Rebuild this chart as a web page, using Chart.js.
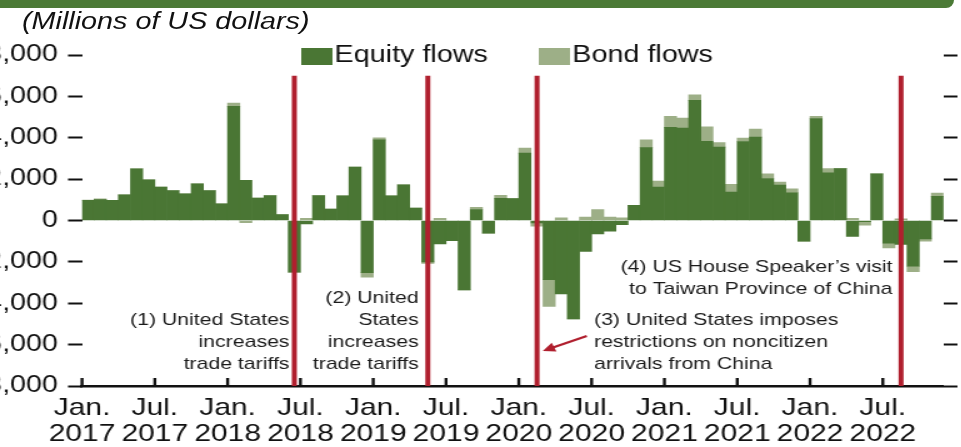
<!DOCTYPE html>
<html>
<head>
<meta charset="utf-8">
<script src="https://cdn.jsdelivr.net/npm/chart.js@4.4.1/dist/chart.umd.min.js"></script>
<style>
  html, body { margin: 0; padding: 0; background: #fff; overflow: hidden; }
  body { width: 961px; height: 447px; position: relative; }
  #banner { position: absolute; left: 0; top: 0; width: 954px; height: 8px; background: #4b7a36; border-bottom-right-radius: 10px; z-index: 2; }
  /* the original art uses a wide face, so the whole chart is stretched sideways */
  #wrap { position: absolute; left: -20px; top: 0; width: 785px; height: 447px; transform: scaleX(1.25); transform-origin: 0 0; }
  #unit { position: absolute; left: 33.6px; top: 9px; font: italic 23px "Liberation Sans", Arial, sans-serif; line-height: 24px; color: #111; white-space: nowrap; z-index: 1; }
  canvas { position: absolute; left: 0; top: 0; }
</style>
</head>
<body>
<div id="banner"></div>
<div id="wrap">
  <canvas id="flowsChart" width="785" height="447"></canvas>
  <div id="unit">(Millions of US dollars)</div>
</div>
<script>
// Monthly categories, Jan. 2017 - Nov. 2022
const months = [
  "Jan 2017", "Feb 2017", "Mar 2017", "Apr 2017", "May 2017", "Jun 2017", "Jul 2017", "Aug 2017", "Sep 2017", "Oct 2017", "Nov 2017", "Dec 2017",
  "Jan 2018", "Feb 2018", "Mar 2018", "Apr 2018", "May 2018", "Jun 2018", "Jul 2018", "Aug 2018", "Sep 2018", "Oct 2018", "Nov 2018", "Dec 2018",
  "Jan 2019", "Feb 2019", "Mar 2019", "Apr 2019", "May 2019", "Jun 2019", "Jul 2019", "Aug 2019", "Sep 2019", "Oct 2019", "Nov 2019", "Dec 2019",
  "Jan 2020", "Feb 2020", "Mar 2020", "Apr 2020", "May 2020", "Jun 2020", "Jul 2020", "Aug 2020", "Sep 2020", "Oct 2020", "Nov 2020", "Dec 2020",
  "Jan 2021", "Feb 2021", "Mar 2021", "Apr 2021", "May 2021", "Jun 2021", "Jul 2021", "Aug 2021", "Sep 2021", "Oct 2021", "Nov 2021", "Dec 2021",
  "Jan 2022", "Feb 2022", "Mar 2022", "Apr 2022", "May 2022", "Jun 2022", "Jul 2022", "Aug 2022", "Sep 2022", "Oct 2022", "Nov 2022"
];

// Equity flows (millions of US dollars)
const equity = [
  970, 1010, 970, 1240, 2500, 1970, 1610, 1450, 1290, 1770, 1450, 800,
  5520, 1940, 1080, 1210, 290, -2500, -160, 1210, 550, 1195, 2585, -2520,
  3900, 1195, 1730, 600, -2000, -1130, -970, -3350, 530, -610, 1070, 1060,
  3260, -120, -2860, -3550, -4760, -1490, -650, -520, -200, 730, 3520, 1610,
  4500, 4470, 5810, 3830, 3550, 1370, 3820, 4030, 2030, 1710, 1340, -1000,
  4930, 2300, 2510, -770, -60, 2250, -1100, -1160, -2210, -890, 1170
];

// Bond flows (millions of US dollars)
const bond = [
  20, 40, 0, 0, 0, 0, 0, 0, 0, 0, 0, 0,
  160, -100, 0, 0, 0, 0, 100, 0, 0, 0, 0, -220,
  100, 0, 0, 0, -80, 100, 0, 0, 110, 0, 150, 0,
  240, -150, -1290, 130, 0, 160, 530, 160, 130, 0, 380, 300,
  540, 480, 260, 700, 215, 380, 160, 390, 225, 150, 190, 0,
  110, 210, 0, 100, -170, 0, -220, 80, -260, -110, 150
];

// x-axis tick labels, every six months from Jan. 2017
const tickLabels = [
  ["Jan.", "2017"], ["Jul.", "2017"], ["Jan.", "2018"], ["Jul.", "2018"],
  ["Jan.", "2019"], ["Jul.", "2019"], ["Jan.", "2020"], ["Jul.", "2020"],
  ["Jan.", "2021"], ["Jul.", "2021"], ["Jan.", "2022"], ["Jul.", "2022"]
];

// Event markers (month of each red line) and their notes
const eventMonths = ["Jun 2018", "May 2019", "Feb 2020", "Aug 2022"];
const eventNotes = [
  ["(1) United States", "increases", "trade tariffs"],
  ["(2) United", "States", "increases", "trade tariffs"],
  ["(3) United States imposes", "restrictions on noncitizen", "arrivals from China"],
  ["(4) US House Speaker\u2019s visit", "to Taiwan Province of China"]
];

const EQUITY_COLOR = "#4a7634";
const BOND_COLOR = "#9daf87";
const EVENT_COLOR = "#b01f2e";
const FONT = '"Liberation Sans", Arial, sans-serif';

Chart.defaults.font.family = FONT;
Chart.defaults.color = "#111";

// legend swatches: wide flat boxes sitting right against the text
function swatch(color) {
  const c = document.createElement("canvas");
  c.width = 25;
  c.height = 17;
  const g = c.getContext("2d");
  g.fillStyle = color;
  g.fillRect(0, 0, 25, 17);
  return c;
}
const swatches = [swatch(EQUITY_COLOR), swatch(BOND_COLOR)];

// red vertical lines, broken apart by null points
const eventLine = [];
eventMonths.forEach(m => {
  const mid = months.indexOf(m) + 0.5;
  eventLine.push({ x: mid, y: 7000 }, { x: mid, y: -8000 }, { x: mid, y: null });
});

// where each note sits (x in months, y in data units of its first line)
const noteAnchors = [
  { x: 17.1, y: -4810, align: "right" },
  { x: 27.75, y: -3750, align: "right" },
  { x: 42.2, y: -4810, align: "left" },
  { x: 66.8, y: -2250, align: "right" }
];

// the legend overlaps the top of the plot, so don't clip it to its box
const legendOverlap = {
  id: "legendOverlap",
  afterInit(chart) {
    const lg = chart.legend;
    if (lg && typeof lg._draw === "function") {
      lg.draw = function () {
        if (this.options.display) this._draw();
      };
    }
  }
};

const decorations = {
  id: "decorations",
  afterDatasetsDraw(chart) {
    const { ctx, chartArea, scales } = chart;
    const x = scales.x, y = scales.y;
    ctx.save();

    // x-axis tick marks point up into the plot
    ctx.strokeStyle = "#111";
    ctx.lineWidth = 2.4;
    x.ticks.forEach(t => {
      const px = x.getPixelForValue(t.value);
      ctx.beginPath();
      ctx.moveTo(px, chartArea.bottom);
      ctx.lineTo(px, chartArea.bottom - 8);
      ctx.stroke();
    });

    // notes
    ctx.font = "17px " + FONT;
    ctx.fillStyle = "#1a1a1a";
    ctx.textBaseline = "middle";
    eventNotes.forEach((lines, i) => {
      const a = noteAnchors[i];
      ctx.textAlign = a.align;
      const px = x.getPixelForValue(a.x);
      const py = y.getPixelForValue(a.y);
      lines.forEach((line, j) => ctx.fillText(line, px, py + j * 22));
    });

    // arrow from note (3) to its line
    const x0 = x.getPixelForValue(41.6), y0 = y.getPixelForValue(-5580);
    const x1 = x.getPixelForValue(37.97), y1 = y.getPixelForValue(-6310);
    const ang = Math.atan2(y1 - y0, x1 - x0);
    ctx.strokeStyle = EVENT_COLOR;
    ctx.fillStyle = EVENT_COLOR;
    ctx.lineWidth = 2.2;
    ctx.beginPath();
    ctx.moveTo(x0, y0);
    ctx.lineTo(x1 - Math.cos(ang) * 7, y1 - Math.sin(ang) * 7);
    ctx.stroke();
    ctx.beginPath();
    ctx.moveTo(x1, y1);
    ctx.lineTo(x1 - Math.cos(ang - 0.45) * 11, y1 - Math.sin(ang - 0.45) * 11);
    ctx.lineTo(x1 - Math.cos(ang + 0.45) * 11, y1 - Math.sin(ang + 0.45) * 11);
    ctx.closePath();
    ctx.fill();

    ctx.restore();
  }
};

const ctx = document.getElementById("flowsChart").getContext("2d");

new Chart(ctx, {
  type: "bar",
  data: {
    datasets: [
      {
        label: "Equity flows",
        data: equity.map((v, i) => ({ x: i + 0.5, y: v })),
        backgroundColor: EQUITY_COLOR,
        borderWidth: 0,
        barPercentage: 1,
        categoryPercentage: 1,
        order: 1
      },
      {
        label: "Bond flows",
        data: bond.map((v, i) => ({ x: i + 0.5, y: v })),
        backgroundColor: BOND_COLOR,
        borderWidth: 0,
        barPercentage: 1,
        categoryPercentage: 1,
        order: 1
      },
      {
        type: "line",
        label: "Events",
        data: eventLine,
        yAxisID: "y2",
        borderColor: EVENT_COLOR,
        borderWidth: 4,
        pointRadius: 0,
        pointHoverRadius: 0,
        spanGaps: false,
        fill: false,
        order: 0
      }
    ]
  },
  options: {
    responsive: false,
    animation: false,
    devicePixelRatio: 1,
    layout: { padding: { top: -5.5, right: 3, bottom: -9.8, left: -10.8 } },
    plugins: {
      tooltip: { enabled: false },
      legend: {
        position: "top",
        fullSize: false,
        maxHeight: 60.5,
        labels: {
          font: { size: 23 },
          color: "#111",
          usePointStyle: true,
          boxWidth: 6,
          padding: 50,
          generateLabels(chart) {
            return Chart.defaults.plugins.legend.labels.generateLabels(chart)
              .filter(item => item.datasetIndex < 2)
              .map(item => Object.assign(item, { pointStyle: swatches[item.datasetIndex] }));
          }
        }
      }
    },
    scales: {
      x: {
        type: "linear",
        min: 0,
        max: months.length,
        offset: false,
        stacked: true,
        afterBuildTicks(scale) {
          scale.ticks = tickLabels.map((_, i) => ({ value: i * 6 }));
        },
        ticks: {
          autoSkip: false,
          maxRotation: 0,
          minRotation: 0,
          padding: 9,
          font: { size: 24, lineHeight: 1.1 },
          color: "#111",
          callback: (value, index) => tickLabels[index]
        },
        grid: { display: true, drawOnChartArea: false, drawTicks: false, offset: false },
        border: { display: true, color: "#111", width: 2.5 }
      },
      y: {
        position: "left",
        stacked: true,
        min: -8000,
        max: 8000,
        ticks: {
          stepSize: 2000,
          padding: 8,
          font: { size: 23 },
          color: "#111",
          callback: v => v.toLocaleString("en-US")
        },
        grid: { drawOnChartArea: false, tickLength: 11.2, tickWidth: 2, tickColor: "#111" },
        border: { display: false }
      },
      y2: {
        position: "right",
        min: -8000,
        max: 8000,
        ticks: { stepSize: 2000, display: false },
        grid: { drawOnChartArea: false, tickLength: 11.2, tickWidth: 2, tickColor: "#111" },
        border: { display: false }
      }
    }
  },
  plugins: [legendOverlap, decorations]
});
</script>
</body>
</html>
